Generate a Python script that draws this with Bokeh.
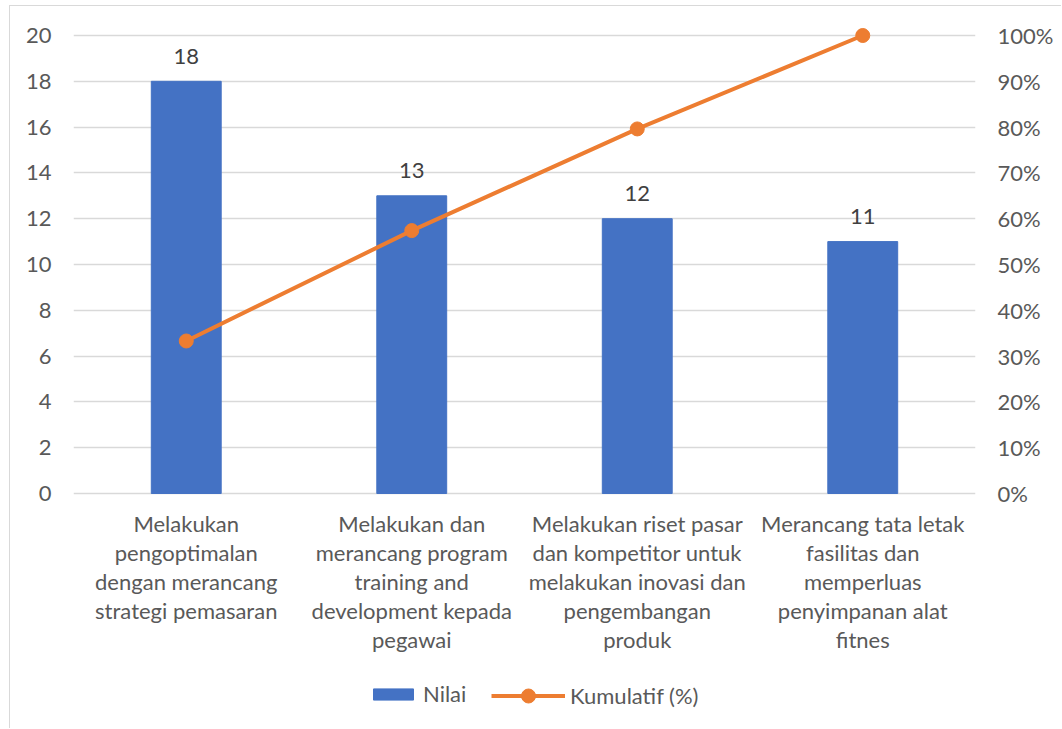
from bokeh.plotting import figure
from bokeh.models import (ColumnDataSource, Range1d, LinearAxis, FixedTicker,
                          PrintfTickFormatter, Legend, LegendItem, FactorRange)
from bokeh.embed import file_html
from bokeh.resources import INLINE

categories = [
    "Melakukan pengoptimalan dengan merancang strategi pemasaran",
    "Melakukan dan merancang program training and development kepada pegawai",
    "Melakukan riset pasar dan kompetitor untuk melakukan inovasi dan pengembangan produk",
    "Merancang tata letak fasilitas dan memperluas penyimpanan alat fitnes",
]
category_lines = [
    ["Melakukan", "pengoptimalan", "dengan merancang", "strategi pemasaran"],
    ["Melakukan dan", "merancang program", "training and", "development kepada", "pegawai"],
    ["Melakukan riset pasar", "dan kompetitor untuk", "melakukan inovasi dan", "pengembangan", "produk"],
    ["Merancang tata letak", "fasilitas dan", "memperluas", "penyimpanan alat", "fitnes"],
]
nilai = [18, 13, 12, 11]
kumulatif = [33.3, 57.4, 79.6, 100.0]
left_ticks = [0, 2, 4, 6, 8, 10, 12, 14, 16, 18, 20]
right_ticks = [0, 10, 20, 30, 40, 50, 60, 70, 80, 90, 100]

FONT = "Lato"
TXT = "#595959"
FS = "22px"

# layout constants (pixels)
W, H = 1052, 723
TOP, LEFT, RIGHT = 9, 63, 87
ABOVE = 20                        # room above the 20 line (inside frame)
PLOT_H = 458                      # height of the 0..20 band
BELOW = H - TOP - ABOVE - PLOT_H  # room under the zero line for labels/legend
Y_MAX = 20 + ABOVE * 20 / PLOT_H
Y_MIN = -BELOW * 20 / PLOT_H
P_MAX = 100 + ABOVE * 100 / PLOT_H
P_MIN = -BELOW * 100 / PLOT_H

src = ColumnDataSource(dict(cat=categories, nilai=nilai, kum=kumulatif,
                            lbl=[str(v) for v in nilai]))

lx, ltxt, loff = [], [], []
for c, lines in zip(categories, category_lines):
    for i, t in enumerate(lines):
        lx.append(c)
        ltxt.append(t)
        loff.append(30 + 29 * i)
lab_src = ColumnDataSource(dict(x=lx, y=[0] * len(lx), t=ltxt, off=loff))

p = figure(x_range=FactorRange(*categories, range_padding=0),
           y_range=Range1d(Y_MIN, Y_MAX),
           width=W, height=H, output_backend="svg", toolbar_location=None,
           x_axis_location=None,
           min_border_left=LEFT, min_border_right=RIGHT, min_border_top=TOP,
           min_border_bottom=0)
p.styles = {"margin-left": "9px", "margin-top": "5px",
            "border-left": "1px solid #d9d9d9", "border-top": "1px solid #d9d9d9"}
p.extra_y_ranges = {"pct": Range1d(P_MIN, P_MAX)}
p.outline_line_color = None
p.background_fill_color = "white"
p.border_fill_color = "white"

bars = p.vbar(x="cat", top="nilai", width=0.31, source=src,
              fill_color="#4472C4", line_color="#4472C4")
ln = p.line(x="cat", y="kum", source=src, y_range_name="pct",
            line_color="#ED7D31", line_width=4)
pts = p.scatter(x="cat", y="kum", source=src, y_range_name="pct", size=14,
                fill_color="#ED7D31", line_color="#ED7D31")
p.text(x="cat", y="nilai", text="lbl", source=src, text_align="center",
       text_baseline="alphabetic", y_offset=-25, text_font_size=FS,
       text_color="#404040", text_font={"value": FONT})
p.text(x="x", y="y", text="t", source=lab_src, y_offset="off",
       text_align="center", text_baseline="alphabetic", text_font_size=FS,
       text_color=TXT, text_font={"value": FONT})

# axes
yax = p.yaxis[0]
yax.ticker = FixedTicker(ticks=left_ticks)
ax2 = LinearAxis(y_range_name="pct", ticker=FixedTicker(ticks=right_ticks),
                 formatter=PrintfTickFormatter(format="%d%%"))
p.add_layout(ax2, "right")
for ax in [yax, ax2]:
    ax.axis_line_color = None
    ax.major_tick_line_color = None
    ax.minor_tick_line_color = None
    ax.major_tick_out = 0
    ax.major_tick_in = 0
    ax.major_label_text_font = FONT
    ax.major_label_text_font_size = FS
    ax.major_label_text_color = TXT
    ax.major_label_standoff = 22

p.xgrid.grid_line_color = None
p.ygrid.grid_line_color = "#d9d9d9"
p.ygrid.grid_line_width = 1.5
p.ygrid.ticker = FixedTicker(ticks=left_ticks)

leg_common = dict(orientation="horizontal", border_line_color=None,
                  background_fill_alpha=0, label_text_font=FONT,
                  label_text_font_size=FS, label_text_color=TXT,
                  margin=0, padding=0, label_standoff=5, spacing=0)
leg1 = Legend(items=[LegendItem(label="Nilai", renderers=[bars])],
              location=(295, 22), glyph_width=50, glyph_height=14, **leg_common)
leg2 = Legend(items=[LegendItem(label="Kumulatif (%)", renderers=[ln, pts])],
              location=(418, 16), glyph_width=74, glyph_height=35, **leg_common)
p.add_layout(leg1)
p.add_layout(leg2)

open("out.html", "w").write(file_html(p, INLINE))
